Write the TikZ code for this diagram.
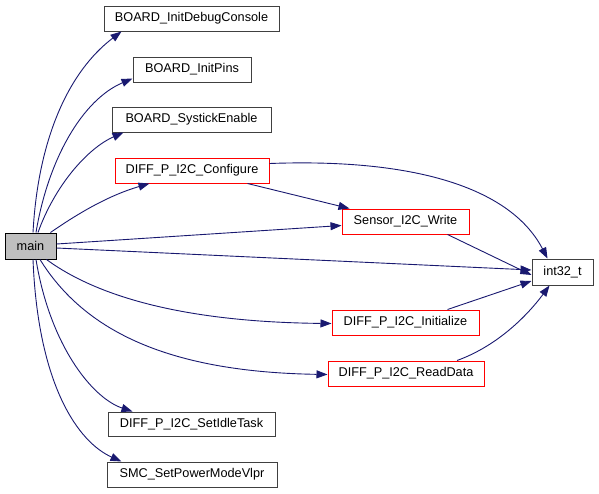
\documentclass[tikz,border=0pt]{standalone}
\usepackage{fontspec}
\setmainfont{Liberation Sans}
\usetikzlibrary{arrows.meta}
\definecolor{edgeblue}{HTML}{191970}
\definecolor{boxgray}{HTML}{404040}
\definecolor{mainfill}{HTML}{BFBFBF}
\definecolor{boxred}{HTML}{FF0000}
\tikzset{
  fn/.style={draw=boxgray, line width=1pt, fill=white, rectangle, inner sep=0pt,
    minimum height=25pt, font=\fontsize{12.7}{15}\selectfont},
  fnred/.style={fn, draw=boxred},
  fnmain/.style={fn, draw=black, fill=mainfill},
  call/.style={draw=edgeblue, line width=0.9pt, -{Triangle[length=11pt,width=8pt]}, color=edgeblue}
}
\begin{document}
\begin{tikzpicture}[x=1pt,y=-1pt]
\useasboundingbox (0,0) rectangle (599,493);
\node[fnmain, minimum width=51pt, minimum height=26pt] (main) at (30.5,246) {main};
\node[fn, minimum width=175pt] (bidc) at (191.5,18.5) {BOARD\_InitDebugConsole};
\node[fn, minimum width=118pt] (bip) at (192,69.5) {BOARD\_InitPins};
\node[fn, minimum width=159pt] (bse) at (191.5,119.5) {BOARD\_SystickEnable};
\node[fnred, minimum width=154pt] (cfg) at (192,170.5) {DIFF\_P\_I2C\_Configure};
\node[fnred, minimum width=127pt] (sw) at (405.5,221.5) {Sensor\_I2C\_Write};
\node[fn, minimum width=61pt, minimum height=26pt] (int) at (562.5,272) {int32\_t};
\node[fnred, minimum width=147pt] (ini) at (405.5,322.5) {DIFF\_P\_I2C\_Initialize};
\node[fnred, minimum width=156pt] (rd) at (406,373.5) {DIFF\_P\_I2C\_ReadData};
\node[fn, minimum width=167pt, minimum height=24pt] (sit) at (191.5,424) {DIFF\_P\_I2C\_SetIdleTask};
\node[fn, minimum width=170pt] (smc) at (192,474.5) {SMC\_SetPowerModeVlpr};

% main -> upper boxes
\draw[call] ([xshift=2.5pt]main.north) .. controls (38,140) and (68,72) .. ([xshift=18pt]bidc.south west);
\draw[call] ([xshift=5.5pt]main.north) .. controls (48,160) and (82,100) .. ([yshift=4pt]bip.south west);
\draw[call] ([xshift=7.5pt]main.north) .. controls (55,185) and (88,148) .. ([xshift=12pt]bse.south west);
\draw[call] ([xshift=20pt]main.north) .. controls (80,212) and (110,195) .. ([xshift=35pt]cfg.south west);
% straight ones
\draw[call] ([yshift=2pt]main.east) -- ([yshift=-4pt]sw.west);
\draw[call] ([yshift=-2pt]main.east) -- ([yshift=2pt]int.west);
% main -> lower
\draw[call] ([xshift=16pt]main.south) .. controls (95,295) and (180,322) .. ([yshift=-1pt]ini.west);
\draw[call] ([xshift=9.5pt]main.south) .. controls (85,332) and (170,372) .. ([yshift=-1pt]rd.west);
\draw[call] ([xshift=5.5pt]main.south) .. controls (50,345) and (92,398) .. ([xshift=25pt]sit.north west);
\draw[call] ([xshift=2.5pt]main.south) .. controls (38,385) and (78,442) .. ([xshift=15pt]smc.north west);
% configure
\draw[call] ([xshift=-22pt]cfg.south east) -- ([xshift=8pt]sw.north west);
\draw[call] ([yshift=7pt]cfg.east) .. controls (420,158) and (512,190) .. ([xshift=16pt]int.north west);
% to int32_t
\draw[call] ([xshift=-22pt]sw.south east) -- ([yshift=-3pt]int.west);
\draw[call] ([xshift=42pt]ini.north) -- ([yshift=-9pt]int.west);
\draw[call] ([xshift=51pt]rd.north) .. controls (500,345) and (530,312) .. ([xshift=18pt]int.south west);
\end{tikzpicture}
\end{document}
